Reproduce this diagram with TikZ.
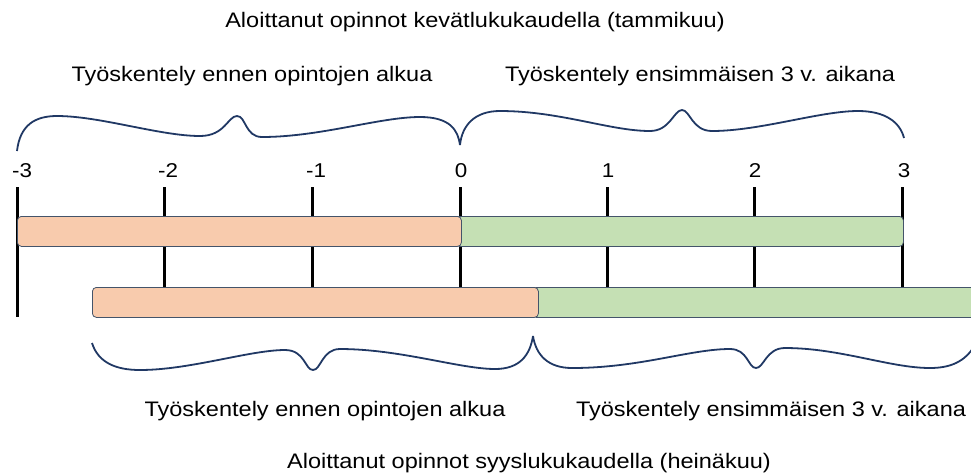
\documentclass[tikz,border=0pt]{standalone}
\usepackage{fontspec}
\setmainfont{Liberation Sans}[FakeStretch=1.12]
\definecolor{braceblue}{HTML}{203864}
\definecolor{orangefill}{HTML}{F8CBAD}
\definecolor{greenfill}{HTML}{C5E0B4}
\definecolor{barline}{HTML}{44546A}
\begin{document}
\begin{tikzpicture}[x=1pt,y=-1pt,
  tickline/.style={line width=3pt,black},
  lbl/.style={font=\fontsize{21}{25}\selectfont,anchor=base,inner sep=0pt},
  numlbl/.style={font=\fontsize{20}{24}\selectfont,anchor=base,inner sep=0pt},
  barbox/.style={draw=barline,line width=0.8pt,rounded corners=4pt,anchor=north west,inner sep=0pt,minimum height=30pt},
  bracepath/.style={draw=braceblue,line width=1.8pt}]
\useasboundingbox (0,0) rectangle (971,475);
\clip (0,0) rectangle (971,475);
% ticks
\coordinate (am3) at (17,187);   \coordinate (bm3) at (17,317);
\coordinate (am2) at (164.5,187);\coordinate (bm2) at (164.5,287);
\coordinate (am1) at (312,187);  \coordinate (bm1) at (312,287);
\coordinate (a0) at (460,187);   \coordinate (b0) at (460,287);
\coordinate (a1) at (607,187);   \coordinate (b1) at (607,287);
\coordinate (a2) at (754.5,187); \coordinate (b2) at (754.5,287);
\coordinate (a3) at (902,187);   \coordinate (b3) at (902,287);
\foreach \n in {m3,m2,m1,0,1,2,3} \draw[tickline] (a\n) -- (b\n);
% tick labels
\node[numlbl] (lm3) at (22,177) {-3};
\node[numlbl] (lm2) at (168,177) {-2};
\node[numlbl] (lm1) at (316,177) {-1};
\node[numlbl] (l0) at (461,177) {0};
\node[numlbl] (l1) at (608,177) {1};
\node[numlbl] (l2) at (755,177) {2};
\node[numlbl] (l3) at (904,177) {3};
% bars
\node[barbox,fill=greenfill,minimum width=448pt] (topgreen) at (455,216) {};
\node[barbox,fill=orangefill,minimum width=444pt] (toporange) at (17,216) {};
\node[barbox,fill=greenfill,minimum width=460pt] (botgreen) at (532,287) {};
\node[barbox,fill=orangefill,minimum width=446pt] (botorange) at (92,287) {};
% braces
\draw[bracepath] (17,151) .. controls (20,125) and (35,116) .. (57,116)
  .. controls (100,116) and (160,136) .. (200,136)
  .. controls (225,136) and (228,116) .. (237,116)
  .. controls (246,116) and (245,137) .. (262,137)
  .. controls (320,137) and (380,117) .. (420,117)
  .. controls (450,117) and (458,130) .. (460,145);
\draw[bracepath] (460,145) .. controls (462,125) and (475,111) .. (500,111)
  .. controls (560,111) and (610,131) .. (650,131)
  .. controls (670,131) and (674,110) .. (682,110)
  .. controls (690,110) and (692,131) .. (712,131)
  .. controls (760,131) and (820,111) .. (858,111)
  .. controls (885,111) and (900,122) .. (904,138);
\draw[bracepath] (92,343) .. controls (98,362) and (115,370) .. (140,370)
  .. controls (190,370) and (250,350) .. (285,350)
  .. controls (305,350) and (305,370) .. (313,370)
  .. controls (321,370) and (322,349) .. (340,349)
  .. controls (400,349) and (460,369) .. (495,369)
  .. controls (520,369) and (530,355) .. (533,336);
\draw[bracepath] (533,336) .. controls (536,355) and (548,368) .. (572,368)
  .. controls (640,368) and (690,349) .. (730,349)
  .. controls (748,349) and (748,368) .. (756,368)
  .. controls (764,368) and (766,348) .. (785,348)
  .. controls (840,348) and (890,368) .. (930,368)
  .. controls (950,368) and (965,362) .. (975,345);
% texts
\node[lbl] (title1) at (475,27) {Aloittanut opinnot kevätlukukaudella (tammikuu)};
\node[lbl] (t1) at (252,81) {Työskentely ennen opintojen alkua};
\node[lbl] (t2) at (700,81) {Työskentely ensimmäisen 3 v. aikana};
\node[lbl] (t3) at (325,416) {Työskentely ennen opintojen alkua};
\node[lbl] (t4) at (771,416) {Työskentely ensimmäisen 3 v. aikana};
\node[lbl] (title2) at (529,468) {Aloittanut opinnot syyslukukaudella (heinäkuu)};
\end{tikzpicture}
\end{document}
